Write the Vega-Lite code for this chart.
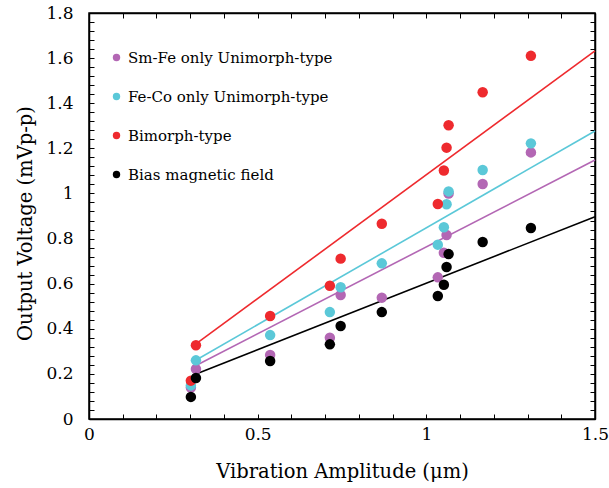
{
  "$schema": "https://vega.github.io/schema/vega-lite/v6.json",
  "width": 506,
  "height": 406,
  "autosize": {"type": "none"},
  "padding": {"left": 89, "top": 13, "right": 14, "bottom": 69},
  "background": "white",
  "config": {
    "font": "DejaVu Serif",
    "view": {"stroke": "black", "strokeWidth": 1.5},
    "axis": {
      "domainColor": "black",
      "domainWidth": 1.5,
      "tickColor": "black",
      "tickWidth": 1,
      "tickSize": -5,
      "labelColor": "black",
      "labelFontSize": 17,
      "labelFont": "DejaVu Serif",
      "labelOverlap": false,
      "labelFlush": false,
      "grid": false,
      "titleColor": "black",
      "titleFont": "DejaVu Serif",
      "titleFontSize": 19.5,
      "titleFontWeight": "normal"
    },
    "legend": {
      "labelFont": "DejaVu Serif",
      "labelFontSize": 15,
      "labelColor": "black",
      "labelLimit": 0
    }
  },
  "datasets": {
    "points": [
      {"series": "Sm-Fe only Unimorph-type", "amp": 0.302, "volt": 0.140},
      {"series": "Sm-Fe only Unimorph-type", "amp": 0.317, "volt": 0.222},
      {"series": "Sm-Fe only Unimorph-type", "amp": 0.537, "volt": 0.284},
      {"series": "Sm-Fe only Unimorph-type", "amp": 0.714, "volt": 0.360},
      {"series": "Sm-Fe only Unimorph-type", "amp": 0.746, "volt": 0.550},
      {"series": "Sm-Fe only Unimorph-type", "amp": 0.868, "volt": 0.538},
      {"series": "Sm-Fe only Unimorph-type", "amp": 1.034, "volt": 0.628},
      {"series": "Sm-Fe only Unimorph-type", "amp": 1.052, "volt": 0.737},
      {"series": "Sm-Fe only Unimorph-type", "amp": 1.060, "volt": 0.816},
      {"series": "Sm-Fe only Unimorph-type", "amp": 1.066, "volt": 1.000},
      {"series": "Sm-Fe only Unimorph-type", "amp": 1.167, "volt": 1.042},
      {"series": "Sm-Fe only Unimorph-type", "amp": 1.310, "volt": 1.182},
      {"series": "Fe-Co only Unimorph-type", "amp": 0.302, "volt": 0.149},
      {"series": "Fe-Co only Unimorph-type", "amp": 0.317, "volt": 0.260},
      {"series": "Fe-Co only Unimorph-type", "amp": 0.537, "volt": 0.372},
      {"series": "Fe-Co only Unimorph-type", "amp": 0.714, "volt": 0.474},
      {"series": "Fe-Co only Unimorph-type", "amp": 0.746, "volt": 0.584},
      {"series": "Fe-Co only Unimorph-type", "amp": 0.868, "volt": 0.690},
      {"series": "Fe-Co only Unimorph-type", "amp": 1.034, "volt": 0.773},
      {"series": "Fe-Co only Unimorph-type", "amp": 1.052, "volt": 0.850},
      {"series": "Fe-Co only Unimorph-type", "amp": 1.060, "volt": 0.952},
      {"series": "Fe-Co only Unimorph-type", "amp": 1.066, "volt": 1.009},
      {"series": "Fe-Co only Unimorph-type", "amp": 1.167, "volt": 1.104},
      {"series": "Fe-Co only Unimorph-type", "amp": 1.310, "volt": 1.222},
      {"series": "Bimorph-type", "amp": 0.302, "volt": 0.170},
      {"series": "Bimorph-type", "amp": 0.317, "volt": 0.327},
      {"series": "Bimorph-type", "amp": 0.537, "volt": 0.457},
      {"series": "Bimorph-type", "amp": 0.714, "volt": 0.591},
      {"series": "Bimorph-type", "amp": 0.746, "volt": 0.711},
      {"series": "Bimorph-type", "amp": 0.868, "volt": 0.866},
      {"series": "Bimorph-type", "amp": 1.034, "volt": 0.953},
      {"series": "Bimorph-type", "amp": 1.052, "volt": 1.102},
      {"series": "Bimorph-type", "amp": 1.060, "volt": 1.203},
      {"series": "Bimorph-type", "amp": 1.066, "volt": 1.302},
      {"series": "Bimorph-type", "amp": 1.167, "volt": 1.449},
      {"series": "Bimorph-type", "amp": 1.310, "volt": 1.610},
      {"series": "Bias magnetic field", "amp": 0.302, "volt": 0.098},
      {"series": "Bias magnetic field", "amp": 0.317, "volt": 0.182},
      {"series": "Bias magnetic field", "amp": 0.537, "volt": 0.257},
      {"series": "Bias magnetic field", "amp": 0.714, "volt": 0.331},
      {"series": "Bias magnetic field", "amp": 0.746, "volt": 0.412},
      {"series": "Bias magnetic field", "amp": 0.868, "volt": 0.474},
      {"series": "Bias magnetic field", "amp": 1.034, "volt": 0.545},
      {"series": "Bias magnetic field", "amp": 1.052, "volt": 0.595},
      {"series": "Bias magnetic field", "amp": 1.060, "volt": 0.674},
      {"series": "Bias magnetic field", "amp": 1.066, "volt": 0.731},
      {"series": "Bias magnetic field", "amp": 1.167, "volt": 0.785},
      {"series": "Bias magnetic field", "amp": 1.310, "volt": 0.847}
    ],
    "fits": [
      {"series": "Sm-Fe only Unimorph-type", "amp": 0.31, "volt": 0.232},
      {"series": "Sm-Fe only Unimorph-type", "amp": 1.5, "volt": 1.148},
      {"series": "Fe-Co only Unimorph-type", "amp": 0.31, "volt": 0.255},
      {"series": "Fe-Co only Unimorph-type", "amp": 1.5, "volt": 1.277},
      {"series": "Bimorph-type", "amp": 0.31, "volt": 0.325},
      {"series": "Bimorph-type", "amp": 1.5, "volt": 1.632},
      {"series": "Bias magnetic field", "amp": 0.31, "volt": 0.195},
      {"series": "Bias magnetic field", "amp": 1.5, "volt": 0.897}
    ]
  },
  "layer": [
    {
      "data": {"name": "fits"},
      "transform": [{"filter": "datum.series == 'Sm-Fe only Unimorph-type'"}],
      "mark": {"type": "line", "strokeWidth": 1.6, "color": "#B367B4"},
      "encoding": {
        "x": {"field": "amp", "type": "quantitative", "scale": {"domain": [0, 1.5], "nice": false, "zero": true}, "axis": null},
        "y": {"field": "volt", "type": "quantitative", "scale": {"domain": [0, 1.8], "nice": false}, "axis": null}
      }
    },
    {
      "data": {"name": "fits"},
      "transform": [{"filter": "datum.series == 'Fe-Co only Unimorph-type'"}],
      "mark": {"type": "line", "strokeWidth": 1.6, "color": "#5BC8D8"},
      "encoding": {
        "x": {"field": "amp", "type": "quantitative", "axis": null},
        "y": {"field": "volt", "type": "quantitative", "axis": null}
      }
    },
    {
      "data": {"name": "fits"},
      "transform": [{"filter": "datum.series == 'Bimorph-type'"}],
      "mark": {"type": "line", "strokeWidth": 1.6, "color": "#EE2A2E"},
      "encoding": {
        "x": {"field": "amp", "type": "quantitative", "axis": null},
        "y": {"field": "volt", "type": "quantitative", "axis": null}
      }
    },
    {
      "data": {"name": "fits"},
      "transform": [{"filter": "datum.series == 'Bias magnetic field'"}],
      "mark": {"type": "line", "strokeWidth": 1.6, "color": "#000000"},
      "encoding": {
        "x": {"field": "amp", "type": "quantitative", "axis": null},
        "y": {"field": "volt", "type": "quantitative", "axis": null}
      }
    },
    {
      "data": {"name": "points"},
      "mark": {"type": "circle", "size": 110, "opacity": 1},
      "encoding": {
        "x": {"field": "amp", "type": "quantitative",
          "axis": {
            "title": "Vibration Amplitude (μm)",
            "values": [0, 0.1, 0.2, 0.3, 0.4, 0.5, 0.6, 0.7, 0.8, 0.9, 1, 1.1, 1.2, 1.3, 1.4, 1.5],
            "labelExpr": "(round(datum.value*10) % 5 == 0) ? format(datum.value, '~g') : ''",
            "labelPadding": 12,
            "titleBaseline": "alphabetic",
            "titleY": 58
          }},
        "y": {"field": "volt", "type": "quantitative",
          "axis": {
            "title": "Output Voltage (mVp-p)",
            "values": [0, 0.04, 0.08, 0.12, 0.16, 0.2, 0.24, 0.28, 0.32, 0.36, 0.4, 0.44, 0.48, 0.52, 0.56, 0.6, 0.64, 0.68, 0.72, 0.76, 0.8, 0.84, 0.88, 0.92, 0.96, 1, 1.04, 1.08, 1.12, 1.16, 1.2, 1.24, 1.28, 1.32, 1.36, 1.4, 1.44, 1.48, 1.52, 1.56, 1.6, 1.64, 1.68, 1.72, 1.76, 1.8],
            "labelExpr": "(round(datum.value*100) % 20 == 0) ? format(datum.value, '~g') : ''",
            "labelPadding": 21,
            "titleBaseline": "alphabetic",
            "titleX": -58,
            "titleY": 210
          }},
        "color": {"field": "series", "type": "nominal",
          "scale": {"domain": ["Sm-Fe only Unimorph-type", "Fe-Co only Unimorph-type", "Bimorph-type", "Bias magnetic field"],
                    "range": ["#B367B4", "#5BC8D8", "#EE2A2E", "#000000"]},
          "legend": {
            "title": null,
            "orient": "none",
            "legendX": 20,
            "legendY": 37,
            "symbolType": "circle",
            "symbolSize": 55,
            "labelOffset": 4,
            "labelLimit": 0,
            "rowPadding": 23,
            "padding": 0
          }}
      }
    },
    {
      "data": {"name": "points"},
      "mark": {"type": "circle", "opacity": 0},
      "encoding": {
        "x": {"field": "amp", "type": "quantitative",
          "axis": {"orient": "top", "title": null, "labels": false,
            "values": [0, 0.1, 0.2, 0.3, 0.4, 0.5, 0.6, 0.7, 0.8, 0.9, 1, 1.1, 1.2, 1.3, 1.4, 1.5]}},
        "y": {"field": "volt", "type": "quantitative",
          "axis": {"orient": "right", "title": null, "labels": false,
            "values": [0, 0.04, 0.08, 0.12, 0.16, 0.2, 0.24, 0.28, 0.32, 0.36, 0.4, 0.44, 0.48, 0.52, 0.56, 0.6, 0.64, 0.68, 0.72, 0.76, 0.8, 0.84, 0.88, 0.92, 0.96, 1, 1.04, 1.08, 1.12, 1.16, 1.2, 1.24, 1.28, 1.32, 1.36, 1.4, 1.44, 1.48, 1.52, 1.56, 1.6, 1.64, 1.68, 1.72, 1.76, 1.8]}}
      }
    }
  ],
  "resolve": {"axis": {"x": "independent", "y": "independent"}}
}
